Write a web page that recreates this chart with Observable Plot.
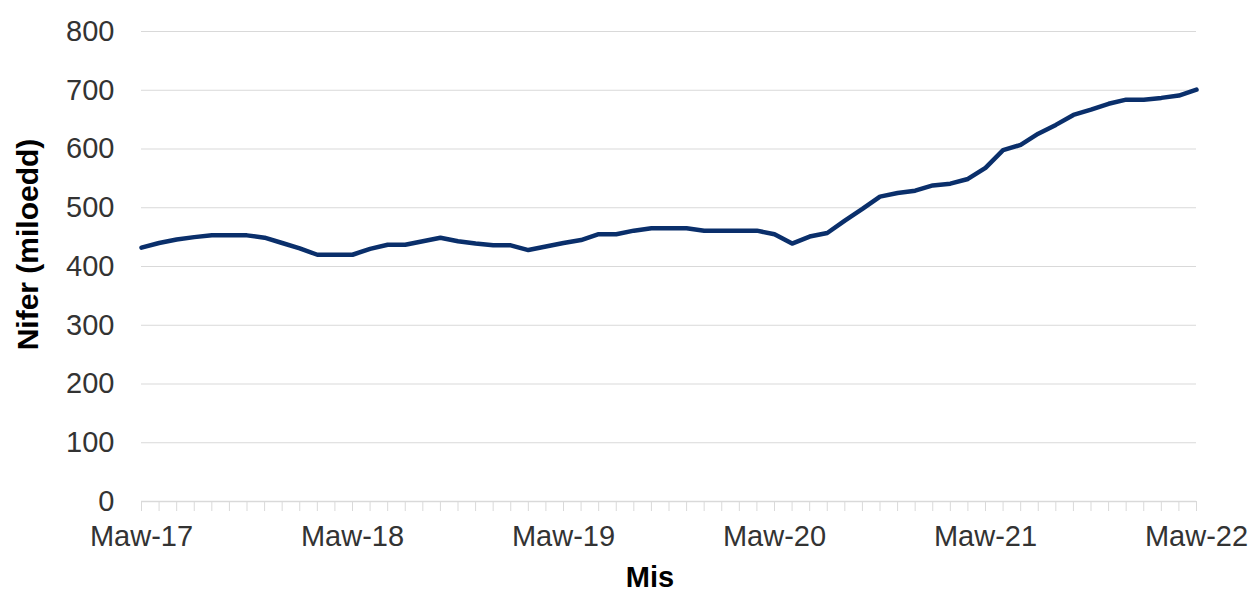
<!DOCTYPE html>
<html>
<head>
<meta charset="utf-8">
<script src="https://cdn.jsdelivr.net/npm/d3@7"></script>
<script src="https://cdn.jsdelivr.net/npm/@observablehq/plot@0.6"></script>
<style>
  html, body { margin: 0; padding: 0; background: #fff; }
  svg { display: block; }
</style>
</head>
<body>
<div id="chart"></div>
<script>
// Monthly categories (March 2017 – March 2022)
const monthKeys = d3.utcMonth
  .range(new Date(Date.UTC(2017, 2, 1)), new Date(Date.UTC(2022, 3, 1)))
  .map(d3.utcFormat("%Y-%m"));

// Values (thousands)
const values = [
  432, 440, 446, 450, 453, 453, 453, 449, 440, 431,
  420, 420, 420, 430, 437, 437, 443, 449, 443, 439,
  436, 436, 428, 434, 440, 445, 455, 455, 461, 465,
  465, 465, 461, 461, 461, 461, 455, 439, 451, 457,
  478, 498, 519, 525, 529, 538, 541, 549, 568, 598,
  607, 626, 641, 658, 667, 677, 684, 684, 687, 691,
  701
];

const tickKeys = ["2017-03", "2018-03", "2019-03", "2020-03", "2021-03", "2022-03"];
const tickLabels = ["Maw-17", "Maw-18", "Maw-19", "Maw-20", "Maw-21", "Maw-22"];
const yTicks = [0, 100, 200, 300, 400, 500, 600, 700, 800];
const yTitle = "Nifer (miloedd)";
const xTitle = "Mis";

const data = values.map((v, i) => ({month: monthKeys[i], value: v}));
const labelOf = new Map(tickKeys.map((k, i) => [k, tickLabels[i]]));

const textColor = "#333333";
const gridColor = "#d9d9d9";

const chart = Plot.plot({
  width: 1252,
  height: 592,
  marginLeft: 141,
  marginRight: 56,
  marginTop: 31,
  marginBottom: 91,
  style: {fontFamily: "'Liberation Sans', Arial, sans-serif", background: "#fff", color: textColor},
  x: {type: "point", domain: monthKeys, padding: 0},
  y: {domain: [0, 800]},
  marks: [
    Plot.ruleY(yTicks.filter(d => d > 0), {stroke: gridColor, strokeWidth: 1.2}),
    Plot.ruleY([0], {stroke: gridColor, strokeWidth: 1.5}),
    Plot.axisY({ticks: yTicks, tickSize: 0, tickPadding: 27, fontSize: 29, fill: textColor, label: null}),
    Plot.axisX({ticks: monthKeys, tickSize: 10, tickFormat: () => "", stroke: gridColor, label: null}),
    Plot.axisX({ticks: tickKeys, tickSize: 0, tickPadding: 24, fontSize: 29, fill: textColor,
      tickFormat: d => labelOf.get(d), label: null}),
    Plot.line(data, {x: "month", y: "value", stroke: "#0a2f6b", strokeWidth: 4.5,
      strokeLinejoin: "round", strokeLinecap: "round"}),
    Plot.text([yTitle], {frameAnchor: "left", dx: -113, dy: -22, rotate: -90,
      textAnchor: "middle", lineAnchor: "middle",
      fontSize: 30, fontWeight: "bold", fill: "#000"}),
    Plot.text([xTitle], {frameAnchor: "bottom", dx: -19, dy: 76,
      textAnchor: "middle", lineAnchor: "middle",
      fontSize: 29, fontWeight: "bold", fill: "#000"})
  ]
});

document.getElementById("chart").appendChild(chart);
</script>
</body>
</html>
